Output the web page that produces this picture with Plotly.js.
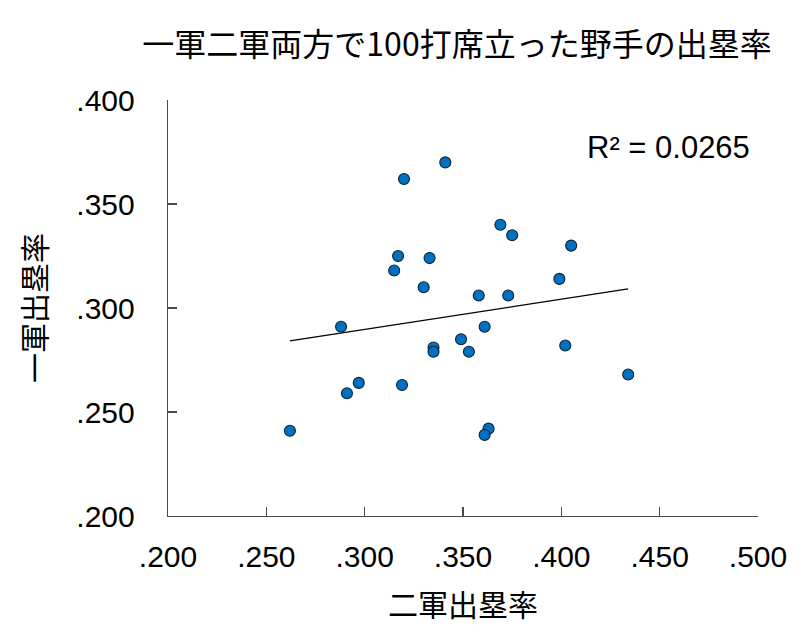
<!DOCTYPE html>
<html>
<head>
<meta charset="utf-8">
<script src="https://cdn.plot.ly/plotly-3.0.1.min.js"></script>
<style>
html,body{margin:0;padding:0;background:#fff;}
#chart{width:808px;height:639px;}
</style>
</head>
<body>
<div id="chart"></div>
<script>
// 二軍出塁率 (x) and 一軍出塁率 (y)
const farmOBP = [0.341,0.320,0.317,0.333,0.315,0.330,0.358,0.373,0.288,0.361,0.349,0.335,0.335,0.353,0.297,0.291,0.319,0.262,0.363,0.361,0.369,0.375,0.405,0.399,0.402,0.434];
const majorOBP = [0.370,0.362,0.325,0.324,0.318,0.310,0.306,0.306,0.291,0.291,0.285,0.281,0.279,0.279,0.264,0.259,0.263,0.241,0.242,0.239,0.340,0.335,0.330,0.314,0.282,0.268];
const tickVals = [0.2,0.25,0.3,0.35,0.4,0.45,0.5];
const tickText = ['.200','.250','.300','.350','.400','.450','.500'];
const yTickVals = [0.2,0.25,0.3,0.35,0.4];
const yTickText = ['.200','.250','.300','.350','.400'];
const titleText = '一軍二軍両方で100打席立った野手の出塁率';
const xTitle = '二軍出塁率';
const yTitle = '一軍出塁率';
const r2Text = 'R² = 0.0265';

// least-squares trendline
const n = farmOBP.length;
const mx = farmOBP.reduce((a,b)=>a+b,0)/n;
const my = majorOBP.reduce((a,b)=>a+b,0)/n;
let sxy=0, sxx=0;
for(let i=0;i<n;i++){sxy+=(farmOBP[i]-mx)*(majorOBP[i]-my); sxx+=(farmOBP[i]-mx)**2;}
const slope = sxy/sxx, icpt = my - slope*mx;
const xmin = Math.min(...farmOBP), xmax = Math.max(...farmOBP);
const trendX = [xmin, xmax];
const trendY = trendX.map(v=>icpt+slope*v);

const font = 'Liberation Sans, Arial, Noto Sans CJK JP, sans-serif';
const cjk = 'Noto Sans CJK JP, Liberation Sans, sans-serif';

const traces = [
  {x: trendX, y: trendY, mode:'lines', type:'scatter', line:{color:'#000', width:1.2}, hoverinfo:'skip', showlegend:false},
  {x: farmOBP, y: majorOBP, mode:'markers', type:'scatter',
   marker:{size:11, color:'#0070C0', line:{color:'#0E2236', width:1.1}}, showlegend:false}
];

const axisCommon = {
  showgrid:false, zeroline:false, showline:true, linecolor:'#4a4a4a', linewidth:1.3,
  ticks:'inside', ticklen:9, tickwidth:1.3, tickcolor:'#4a4a4a',
  tickfont:{family:font, size:30, color:'#000'}
};

const layout = {
  width:808, height:639,
  margin:{l:168, r:50, t:100, b:123, pad:0},
  paper_bgcolor:'#fff', plot_bgcolor:'#fff',
  title:{text:titleText, font:{family:cjk, size:32, color:'#000'}, x:457/808, xanchor:'center', y:1-45/639, yanchor:'middle', xref:'container', yref:'container'},
  xaxis: Object.assign({}, axisCommon, {range:[0.2,0.5], tickvals:tickVals, ticktext:tickText, ticklabelstandoff:14,
    title:{text:xTitle, font:{family:cjk, size:30, color:'#000'}, standoff:22}}),
  yaxis: Object.assign({}, axisCommon, {range:[0.2,0.4], tickvals:yTickVals, ticktext:yTickText, ticklabelstandoff:26,
    title:{text:yTitle, font:{family:cjk, size:30, color:'#000'}, standoff:20}}),
  annotations:[{text:r2Text, xref:'paper', yref:'paper', x:(668-168)/590, y:(516.5-148)/416.5, xanchor:'center', yanchor:'middle', showarrow:false, font:{family:font, size:31, color:'#000'}}]
};

Plotly.newPlot('chart', traces, layout, {displayModeBar:false, staticPlot:true});
</script>
</body>
</html>
